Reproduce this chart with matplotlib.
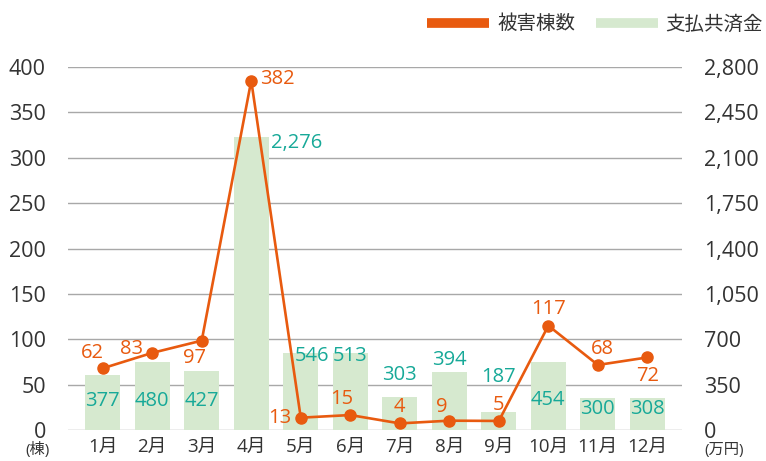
import matplotlib
matplotlib.use("Agg")
import matplotlib.pyplot as plt
from matplotlib.lines import Line2D

plt.rcParams['font.family'] = ['Open Sans', 'Noto Sans CJK JP', 'DejaVu Sans']

# data
months = ["1月", "2月", "3月", "4月", "5月", "6月", "7月", "8月", "9月", "10月", "11月", "12月"]
# 被害棟数 (left axis, 棟): label text and plotted point height
damage_labels = [62, 83, 97, 382, 13, 15, 4, 9, 5, 117, 68, 72]
damage_points = [68, 85, 98.5, 385, 13.6, 16.5, 7.3, 10.3, 10, 115, 71.7, 80]
# 支払共済金 (right axis, 万円): label text and drawn bar height
payout_labels = [377, 480, 427, 2276, 546, 513, 303, 394, 187, 454, 300, 308]
payout_bars = [424, 527, 455, 2259, 592, 592, 257, 450, 141, 527, 249, 249]

orange = "#E85A0F"
teal = "#17A998"
green = "#D6E9CF"
grid_c = "#A8A8A8"
text_c = "#333333"

# label offsets in pixels (dx, dy)
damage_off = [(-10, 15), (-21, 4), (-7, -17), (26, 2), (-21, 0), (-9, 16),
              (0, 16), (-8, 14), (0, 16), (0, 17), (5, 16), (0, -19)]
payout_off = [(0, -26), (0, -39), (0, -30), (45, -6), (11, -3), (0, -3),
              (0, 22), (0, 12), (0, 35), (0, -38), (0, -11), (0, -11)]

fig = plt.figure(figsize=(7.66, 4.61), dpi=100)
ax = fig.add_axes([0.0888, 0.0672, 0.8016, 0.7874])
ax2 = ax.twinx()
ax.set_zorder(ax2.get_zorder() + 1)
ax.patch.set_visible(False)

x = list(range(len(months)))

# bars + grid on the right axis
ax2.bar(x, payout_bars, width=0.707, color=green, zorder=2)
ax2.set_ylim(0, 2800)
ax2.set_yticks(range(0, 2801, 350))
ax2.set_yticklabels(["{:,}".format(v) for v in range(0, 2801, 350)])
ax2.grid(axis='y', color=grid_c, lw=1.0, zorder=1)
ax2.set_axisbelow(True)
for i, v in enumerate(payout_bars):
    ax2.annotate("{:,}".format(payout_labels[i]), (i, v), xytext=payout_off[i],
                 textcoords='offset pixels', ha='center', va='center',
                 color=teal, fontsize=14.5, zorder=3)

# line on the left axis
ax.plot(x, damage_points, color=orange, lw=1.9, marker='o', markersize=8, zorder=4)
ax.set_ylim(0, 400)
ax.set_yticks(range(0, 401, 50))
for i, v in enumerate(damage_points):
    ax.annotate(str(damage_labels[i]), (i, v), xytext=damage_off[i],
                textcoords='offset pixels', ha='center', va='center',
                color=orange, fontsize=14.5, zorder=5)

ax.set_xlim(-0.7, 11.7)
ax.set_xticks(x)
ax.set_xticklabels(months)

for a in (ax, ax2):
    for s in a.spines.values():
        s.set_visible(False)
ax.tick_params(axis='y', length=0, pad=16, labelsize=15.5, labelcolor=text_c)
ax.tick_params(axis='x', length=0, pad=6, labelsize=13.5, labelcolor=text_c)
ax2.tick_params(axis='y', length=0, pad=16, labelsize=15.5, labelcolor=text_c)

fig.text(37 / 766, 1 - 450 / 461, "(棟)", ha='center', va='center', fontsize=11, color=text_c)
fig.text(724 / 766, 1 - 450 / 461, "(万円)", ha='center', va='center', fontsize=11, color=text_c)

handles = [Line2D([], [], color=orange, lw=7, solid_capstyle='butt'),
           Line2D([], [], color=green, lw=7, solid_capstyle='butt')]
fig.legend(handles, ["被害棟数", "支払共済金"], loc='center right',
           bbox_to_anchor=(763 / 766, 1 - 24 / 461), ncol=2, frameon=False,
           fontsize=14, handlelength=3.2, handletextpad=0.4, columnspacing=1.05,
           borderpad=0, borderaxespad=0, labelcolor=text_c)

fig.savefig("out.png", dpi=100)
